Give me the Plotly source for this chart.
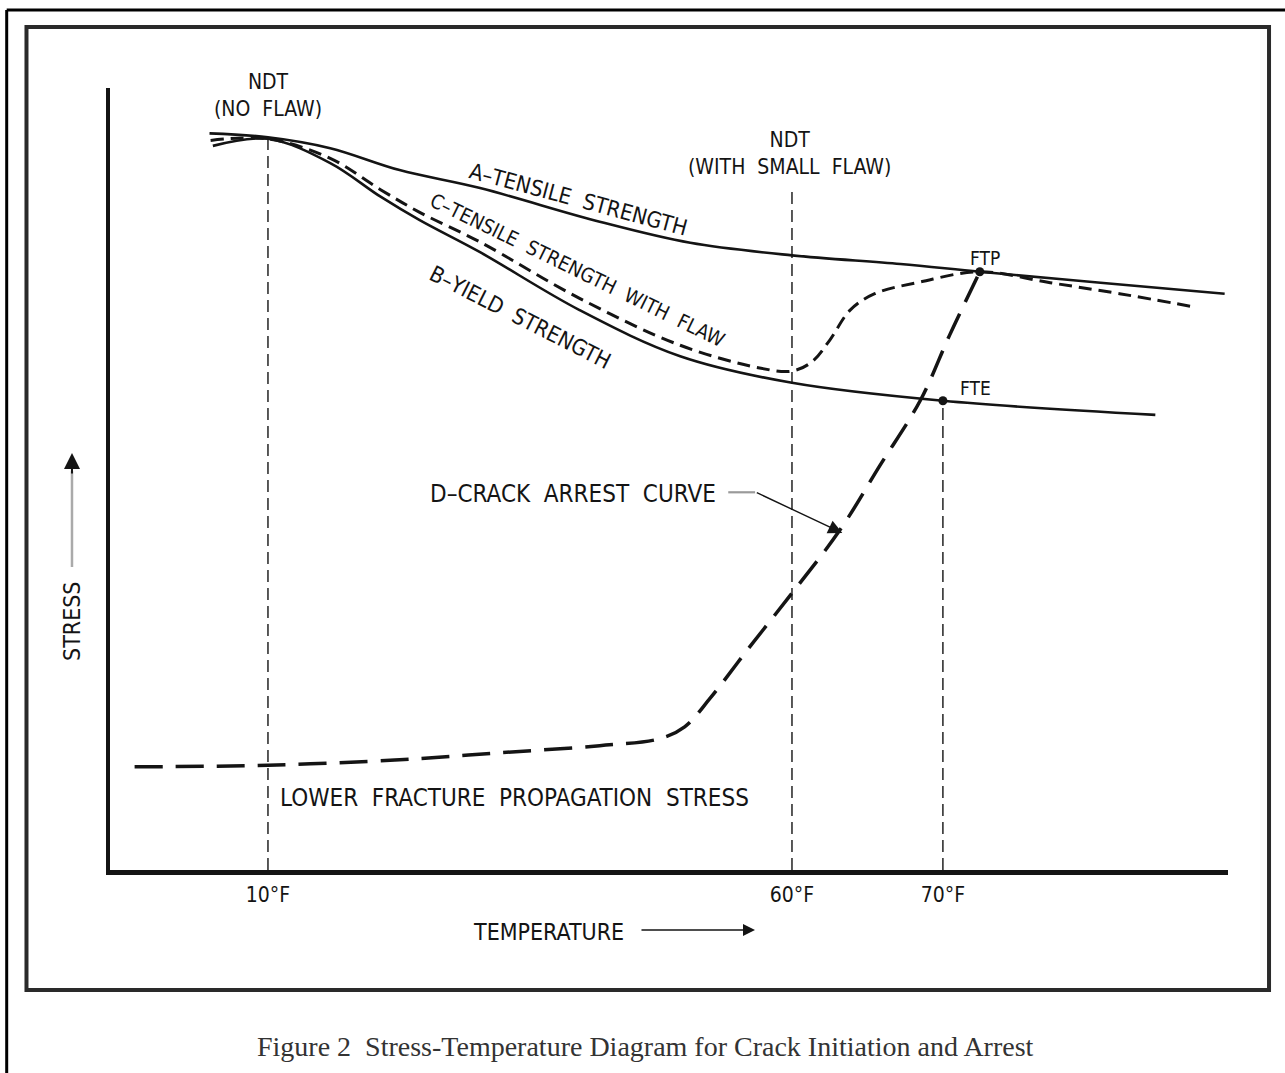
import plotly.graph_objects as go

# Schematic units: x = relative temperature position (0-100), y = relative stress (0-100)
tick_pos = [14.13, 61.0, 74.5]
tick_labels = ["10°F", "60°F", "70°F"]

a_x = [8.9, 14.13, 19.7, 25.9, 33.1, 43.8, 51.9, 61.0, 70.7, 77.8, 88.6, 99.7]
a_y = [94.2, 93.7, 92.3, 89.5, 87.2, 82.9, 80.2, 78.6, 77.5, 76.5, 75.1, 73.7]

b_x = [9.2, 14.13, 19.7, 24.2, 27.7, 33.1, 42.0, 51.0, 61.0, 74.5, 93.5]
b_y = [92.6, 93.5, 90.4, 86.1, 83.1, 79.0, 71.6, 65.7, 62.3, 60.0, 58.2]

c_x = [9.0, 14.13, 19.7, 24.2, 27.7, 33.1, 42.0, 51.0, 58.1, 61.0, 62.8, 64.4, 66.2, 68.4, 72.5, 77.8, 84.1, 90.3, 97.0]
c_y = [93.3, 93.5, 91.0, 87.0, 84.1, 80.3, 73.1, 67.1, 64.2, 63.8, 65.0, 67.8, 71.6, 73.7, 75.2, 76.5, 75.1, 73.7, 72.0]

d_x = [2.2, 14.13, 25.9, 34.9, 43.8, 49.2, 51.4, 53.7, 57.2, 61.0, 65.3, 68.9, 72.5, 75.1, 77.8]
d_y = [13.2, 13.4, 14.1, 15.0, 15.9, 16.8, 18.3, 22.0, 28.5, 35.4, 43.5, 51.8, 60.1, 68.4, 76.5]

ndt_x = [14.13, 61.0, 74.5]
ndt_top = [93.4, 87.0, 60.0]

pts_x = [77.8, 74.5]
pts_y = [76.5, 60.0]
pts_names = ["FTP", "FTE"]

INK = "#141414"
FONT = "DejaVu Sans Condensed, DejaVu Sans, sans-serif"

fig = go.Figure()

for xv, top in zip(ndt_x, ndt_top):
    fig.add_trace(go.Scatter(x=[xv, xv], y=[0, top], mode="lines",
                             line=dict(color=INK, width=1.4, dash="12px,6px"),
                             hoverinfo="skip", showlegend=False))

fig.add_trace(go.Scatter(x=a_x, y=a_y, mode="lines", line=dict(color=INK, width=2.6, shape="spline"),
                         showlegend=False, name="A"))
fig.add_trace(go.Scatter(x=b_x, y=b_y, mode="lines", line=dict(color=INK, width=2.6, shape="spline"),
                         showlegend=False, name="B"))
fig.add_trace(go.Scatter(x=c_x, y=c_y, mode="lines",
                         line=dict(color=INK, width=3, shape="spline", dash="13px,7px"),
                         showlegend=False, name="C"))
fig.add_trace(go.Scatter(x=d_x, y=d_y, mode="lines",
                         line=dict(color=INK, width=3.5, shape="spline", dash="28px,13px"),
                         showlegend=False, name="D"))
fig.add_trace(go.Scatter(x=pts_x, y=pts_y, mode="markers",
                         marker=dict(color=INK, size=9), showlegend=False))

def ann(text, x, y, size=23, angle=0, xanchor="center", xref="x", yref="y", color=INK, family=FONT):
    fig.add_annotation(text=text, x=x, y=y, xref=xref, yref=yref, showarrow=False, textangle=angle,
                       xanchor=xanchor, yanchor="middle",
                       font=dict(family=family, size=size, color=color))

ann("NDT<br>(NO  FLAW)", 0.1413, 0.9898, size=21, xref="paper", yref="paper")
ann("NDT<br>(WITH  SMALL  FLAW)", 60.8, 91.6, size=21)
ann("A–TENSILE  STRENGTH", 41.9, 85.7, size=22, angle=15)
ann("C–TENSILE  STRENGTH  WITH  FLAW", 41.8, 76.7, size=20, angle=26)
ann("B–YIELD  STRENGTH", 36.7, 70.6, size=22, angle=27)
ann("D–CRACK  ARREST  CURVE", 28.4, 48.1, size=24, xanchor="left")
ann("LOWER  FRACTURE  PROPAGATION  STRESS", 15.0, 9.2, size=24, xanchor="left")
ann(pts_names[0], 78.3, 78.3, size=19)
ann(pts_names[1], 77.4, 61.6, size=19)

# D arrow
fig.add_shape(type="line", x0=55.3, x1=57.7, y0=48.3, y1=48.3, line=dict(color="#9a9a9a", width=2.2))
fig.add_annotation(x=65.5, y=43.1, ax=-87, ay=-41, text="", showarrow=True,
                   arrowhead=2, arrowsize=2, arrowwidth=1.4, arrowcolor=INK)

# axis titles with arrows
ann("TEMPERATURE", 0.3918, -0.0793, size=23, xref="paper", yref="paper")
fig.add_annotation(xref="paper", yref="paper", x=0.5769, y=-0.0767, ax=-115, ay=0, text="",
                   showarrow=True, arrowhead=2, arrowsize=1.5, arrowwidth=1.6, arrowcolor=INK)
ann("STRESS", -0.0340, 0.3184, size=23, angle=-90, xref="paper", yref="paper")
fig.add_shape(type="line", xref="paper", yref="paper", x0=-0.034, x1=-0.034, y0=0.3875, y1=0.51,
              line=dict(color="#aaaaaa", width=2.5))
fig.add_annotation(xref="paper", yref="paper", x=-0.034, y=0.5332, ax=0, ay=22, text="",
                   showarrow=True, arrowhead=2, arrowsize=1.6, arrowwidth=2, arrowcolor=INK)

# caption
ann("Figure 2  Stress-Temperature Diagram for Crack Initiation and Arrest", 0.4794, -0.2263,
    size=28, xref="paper", yref="paper", color="#333", family="Liberation Serif")

# frames
fig.add_shape(type="rect", xref="paper", yref="paper", x0=-0.0747, x1=1.0367, y0=-0.1535, y1=1.0780,
              line=dict(color="#2a2a2a", width=4), layer="below")
fig.add_shape(type="line", xref="paper", yref="paper", x0=-0.0924, x1=1.06, y0=1.0997, y1=1.0997,
              line=dict(color="black", width=3))
fig.add_shape(type="line", xref="paper", yref="paper", x0=-0.0924, x1=-0.0924, y0=1.0997, y1=-0.27,
              line=dict(color="black", width=3))

fig.update_layout(
    width=1285, height=1073,
    margin=dict(l=110, r=57, t=88, b=203),
    paper_bgcolor="white", plot_bgcolor="white",
    xaxis=dict(range=[0, 100], showline=True, linewidth=5, linecolor=INK, showgrid=False,
               zeroline=False, tickvals=tick_pos, ticktext=tick_labels, ticks="",
               ticklabelstandoff=2, tickfont=dict(family=FONT, size=21, color=INK)),
    yaxis=dict(range=[0, 100], showline=True, linewidth=4, linecolor=INK, showgrid=False,
               zeroline=False, showticklabels=False, ticks=""),
)

fig.write_html("out.html", config={"displayModeBar": False},
               post_script="document.body.style.margin='0';document.body.style.overflow='hidden';")
